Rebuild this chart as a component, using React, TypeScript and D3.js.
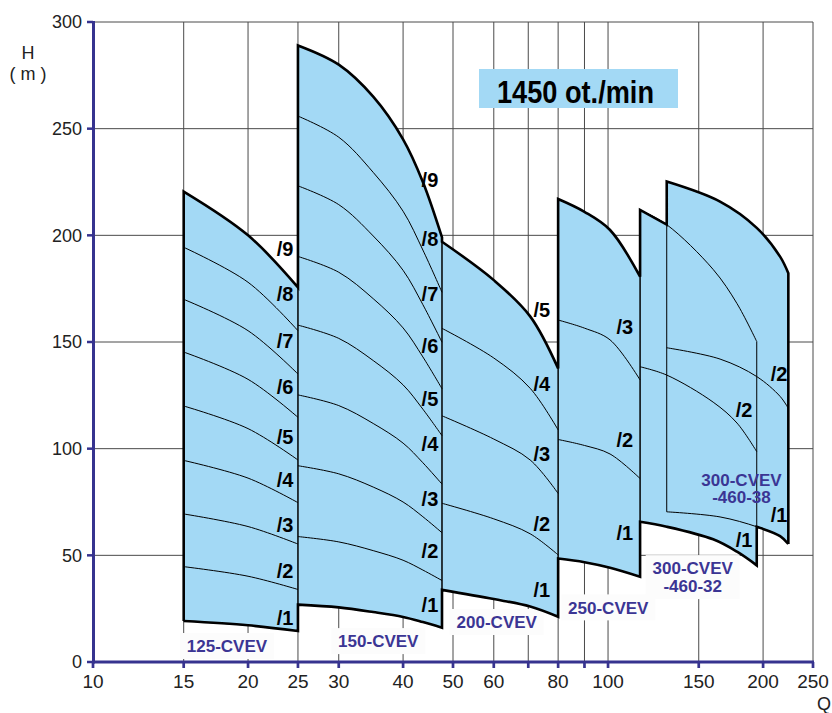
import React from "react";
import * as d3 from "d3";

// ---------- axes ----------
const Q_GRID = [10, 15, 20, 25, 30, 40, 50, 60, 70, 80, 90, 100, 150, 200, 250];
const Q_TICK_LABELS = [10, 15, 20, 25, 30, 40, 50, 60, 80, 100, 150, 200, 250];
const H_TICKS = [0, 50, 100, 150, 200, 250, 300];

// ---------- pump families: Q points and H of each stage curve (/1 .. /n) ----------
const G1_Q = [15, 20, 25];
const G1_H = [
  [19.2, 17.2, 14.5],
  [44.7, 40.2, 34.0],
  [69.4, 63.5, 55.3],
  [94.5, 86.2, 74.7],
  [120.0, 109.4, 94.7],
  [145.3, 132.5, 114.7],
  [170.0, 155.3, 135.0],
  [194.4, 178.0, 155.3],
  [220.5, 200.0, 175.6],
];

const G2_Q = [25, 30, 35, 40, 43.7, 47.6];
const G2_H = [
  [26.9, 25.6, 23.4, 21.1, 18.7, 16.1],
  [58.8, 56.3, 52.2, 47.7, 43.1, 38.2],
  [92.0, 88.2, 82.0, 75.0, 68.1, 60.6],
  [125.2, 120.2, 111.8, 102.6, 93.4, 83.4],
  [157.9, 151.7, 141.3, 129.9, 118.5, 106.1],
  [190.1, 182.7, 170.3, 156.6, 143.0, 128.1],
  [223.2, 214.4, 199.7, 183.6, 167.5, 149.9],
  [255.9, 246.0, 229.5, 211.3, 193.1, 173.3],
  [289.0, 280.0, 265.0, 245.0, 225.0, 199.0],
];

const G3_Q = [47.6, 60, 70.6, 80];
const G3_H = [
  [33.8, 29.5, 26.0, 21.2],
  [74.4, 67.1, 60.1, 50.2],
  [115.4, 104.5, 94.7, 79.0],
  [156.4, 142.5, 128.3, 108.8],
  [197.0, 179.0, 162.0, 137.6],
];

const G4_Q = [80, 90, 100.9, 115.4];
const G4_H = [
  [48.5, 46.8, 44.2, 40.0],
  [104.3, 101.5, 97.5, 86.0],
  [160.3, 156.5, 151.0, 132.2],
  [217.0, 211.0, 202.5, 180.6],
];

const G5_Q = [115.4, 130, 160, 178, 194.4];
const G5_H = [
  [65.7, 63.4, 57.5, 51.7, 45.3],
  [138.4, 134.5, 121.8, 112.0, 98.6],
  [211.9, 205.0, 184.0, 168.0, 150.2],
];

const G6_Q = [130, 165, 194.4, 215.8, 223.9];
const G6_H = [
  [70.4, 68.0, 63.4, 59.0, 55.3],
  [147.3, 142.0, 133.8, 124.5, 118.9],
  [225.2, 215.8, 203.5, 190.0, 182.2],
];

const MODEL_NAMES = [
  ["125-CVEV"],
  ["150-CVEV"],
  ["200-CVEV"],
  ["250-CVEV"],
  ["300-CVEV", "-460-32"],
  ["300-CVEV", "-460-38"],
];

// stage numbers that carry a label, per family
const G1_LABELS = [1, 2, 3, 4, 5, 6, 7, 8, 9];
const G2_LABELS = [1, 2, 3, 4, 5, 6, 7, 8, 9];
const G3_LABELS = [1, 2, 3, 4, 5];
const G4_LABELS = [1, 2, 3];
const G5_LABELS = [1, 2];
const G6_LABELS = [1, 2];

const SPEED_TEXT = "1450 ot./min";

// ---------- layout (label anchor positions in data units) ----------
const STAGE_LABEL_POS = [
  { q: 23.6, h: [20.5, 42.7, 64.5, 85.6, 105.6, 129, 150.5, 172.8, 193.9] },
  { q: 45.1, h: [27, 52, 76.4, 102.5, 123.6, 148.3, 172.8, 198.6, 226] },
  { q: 74.4, h: [33.7, 65, 97.4, 130.3, 165] },
  { q: 107.8, h: [60.6, 104.1, 157.2] },
  { q: 183.7, h: [57.2, 118.1] },
  { q: 214.8, h: [68.9, 135] },
];
const MODEL_LABEL_POS = [
  { q: 18.2, h: 7.5, bg: true },
  { q: 35.8, h: 9.8, bg: true },
  { q: 60.8, h: 18.75, bg: true },
  { q: 100.1, h: 25.6, bg: true },
  { q: 146, h: 39.8, bg: true },
  { q: 181.6, h: 81.3, bg: false },
];

const W = 832;
const H = 713;
const BLUE = "#36338f";
const FILL = "#a3d9f5";
const LABEL_BLUE = "#3b3594";

export default function App() {
  const x = d3.scaleLog().domain([10, 250]).range([93, 813]);
  const y = d3.scaleLinear().domain([0, 300]).range([662, 22]);

  const groups = [
    { q: G1_Q, h: G1_H, labels: G1_LABELS },
    { q: G2_Q, h: G2_H, labels: G2_LABELS },
    { q: G3_Q, h: G3_H, labels: G3_LABELS },
    { q: G4_Q, h: G4_H, labels: G4_LABELS },
    { q: G5_Q, h: G5_H, labels: G5_LABELS },
    { q: G6_Q, h: G6_H, labels: G6_LABELS },
  ];

  const line = d3
    .line<[number, number]>()
    .x((d) => x(d[0]))
    .y((d) => y(d[1]))
    .curve(d3.curveCatmullRom.alpha(0.5));

  const pts = (qs: number[], hs: number[]) =>
    qs.map((q, i) => [q, hs[i]] as [number, number]);

  const cont = (p: string) => "L" + p.slice(1);

  // fills
  const fills = groups.map((g) => {
    const top = pts(g.q, g.h[g.h.length - 1]);
    const bottom = pts(g.q, g.h[0]).reverse();
    return (line(top) as string) + cont(line(bottom) as string) + "Z";
  });

  // envelope (thick outline)
  const [g1, g2, g3, g4, g5, g6] = groups;
  const topParts = [
    line(pts(g1.q, g1.h[8])) as string,
    line(pts(g2.q, g2.h[8])) as string,
    line(pts(g3.q, g3.h[4])) as string,
    line(pts(g4.q, g4.h[3])) as string,
    line(pts(g5.q.slice(0, 2), g5.h[2].slice(0, 2))) as string,
    line(pts(g6.q, g6.h[2])) as string,
  ];
  const topEnvelope =
    `M${x(g1.q[0])},${y(g1.h[0][0])}` +
    topParts.map(cont).join("") +
    `L${x(g6.q[g6.q.length - 1])},${y(g6.h[0][g6.h[0].length - 1])}`;

  const bottomParts = [
    line(pts(g1.q, g1.h[0])) as string,
    line(pts(g2.q, g2.h[0])) as string,
    line(pts(g3.q, g3.h[0])) as string,
    line(pts(g4.q, g4.h[0])) as string,
    line(pts(g5.q, g5.h[0])) as string,
    line(pts(g6.q.slice(2), g6.h[0].slice(2))) as string,
  ];
  const bottomEnvelope = bottomParts[0] + bottomParts.slice(1).map(cont).join("");

  const gridColor = "#4a4a4a";

  return (
    <svg
      width={W}
      height={H}
      style={{ position: "absolute", left: 0, top: 0, background: "#fff" }}
      fontFamily="'Liberation Sans', Arial, sans-serif"
    >
      <rect x={0} y={0} width={W} height={H} fill="#fff" />
      {/* grid */}
      {Q_GRID.map((q) => (
        <line key={"vq" + q} x1={x(q)} x2={x(q)} y1={y(300)} y2={y(0)} stroke={gridColor} strokeWidth={1} />
      ))}
      {H_TICKS.map((h) => (
        <line key={"hh" + h} x1={x(10)} x2={x(250)} y1={y(h)} y2={y(h)} stroke={gridColor} strokeWidth={1} />
      ))}

      {/* label backgrounds */}
      {MODEL_LABEL_POS.map((p, i) => {
        if (!p.bg) return null;
        const lines = MODEL_NAMES[i];
        const hgt = lines.length * 18 + 8;
        return (
          <rect
            key={"bg" + i}
            x={x(p.q) - 47}
            y={y(p.h) - hgt / 2}
            width={94}
            height={hgt}
            fill="#fcfcfc"
          />
        );
      })}

      {/* fills */}
      {fills.map((d, i) => (
        <path key={"f" + i} d={d} fill={FILL} stroke="none" />
      ))}

      {/* thin stage curves and edges */}
      {groups.map((g, gi) => (
        <g key={"thin" + gi}>
          {g.h.map((hs, si) => (
            <path key={si} d={line(pts(g.q, hs)) as string} fill="none" stroke="#000" strokeWidth={1} />
          ))}
          <line
            x1={x(g.q[0])}
            x2={x(g.q[0])}
            y1={y(g.h[0][0])}
            y2={y(g.h[g.h.length - 1][0])}
            stroke="#000"
            strokeWidth={1}
          />
          <line
            x1={x(g.q[g.q.length - 1])}
            x2={x(g.q[g.q.length - 1])}
            y1={y(g.h[0][g.q.length - 1])}
            y2={y(g.h[g.h.length - 1][g.q.length - 1])}
            stroke="#000"
            strokeWidth={1}
          />
        </g>
      ))}

      {/* thick envelope */}
      <path d={topEnvelope} fill="none" stroke="#000" strokeWidth={2.6} strokeLinejoin="miter" />
      <path d={bottomEnvelope} fill="none" stroke="#000" strokeWidth={2.6} strokeLinejoin="miter" />

      {/* axes */}
      <line x1={x(10) + 0.5} x2={x(10) + 0.5} y1={y(300) - 1} y2={y(0) + 1.5} stroke={BLUE} strokeWidth={3} />
      <line x1={x(10)} x2={x(250) + 1} y1={y(0)} y2={y(0)} stroke={BLUE} strokeWidth={3.2} />
      {H_TICKS.map((h) => (
        <line key={"yt" + h} x1={x(10) - 6} x2={x(10)} y1={y(h)} y2={y(h)} stroke={BLUE} strokeWidth={2.5} />
      ))}
      {Q_GRID.map((q) => (
        <line key={"xt" + q} x1={x(q)} x2={x(q)} y1={y(0)} y2={y(0) + 6} stroke={BLUE} strokeWidth={2.7} />
      ))}

      {/* tick labels */}
      {H_TICKS.map((h) => (
        <text key={"yl" + h} x={82} y={y(h)} dy="0.36em" textAnchor="end" fontSize={18} fill="#222">
          {h}
        </text>
      ))}
      {Q_TICK_LABELS.map((q) => (
        <text key={"xl" + q} x={x(q)} y={688} textAnchor="middle" fontSize={19} fill="#222">
          {q}
        </text>
      ))}
      <text x={28} y={59} textAnchor="middle" fontSize={18} fill="#222">H</text>
      <text x={28} y={80} textAnchor="middle" fontSize={18} fill="#222" xmlSpace="preserve">( m )</text>
      <text x={817} y={710} fontSize={18} fill="#222">Q</text>

      {/* stage labels */}
      {groups.map((g, gi) =>
        g.labels.map((n, li) => (
          <text
            key={"sl" + gi + "-" + n}
            x={x(STAGE_LABEL_POS[gi].q)}
            y={y(STAGE_LABEL_POS[gi].h[li])}
            dy="0.36em"
            textAnchor="middle"
            fontSize={20}
            fontWeight="bold"
            fill="#000"
          >
            {"/" + n}
          </text>
        ))
      )}

      {/* model labels */}
      {MODEL_LABEL_POS.map((p, i) => {
        const lines = MODEL_NAMES[i];
        const cy = y(p.h);
        const start = cy - ((lines.length - 1) * 17.5) / 2;
        return (
          <g key={"ml" + i}>
            {lines.map((t, k) => (
              <text
                key={k}
                x={x(p.q)}
                y={start + k * 17.5}
                dy="0.36em"
                textAnchor="middle"
                fontSize={17}
                fontWeight="bold"
                fill={LABEL_BLUE}
              >
                {t}
              </text>
            ))}
          </g>
        );
      })}

      {/* speed box */}
      <rect x={479} y={69} width={199} height={39} fill={FILL} />
      <text
        x={497}
        y={103}
        fontSize={32}
        fontWeight="bold"
        fill="#000"
        textLength={157}
        lengthAdjust="spacingAndGlyphs"
      >
        {SPEED_TEXT}
      </text>
    </svg>
  );
}
